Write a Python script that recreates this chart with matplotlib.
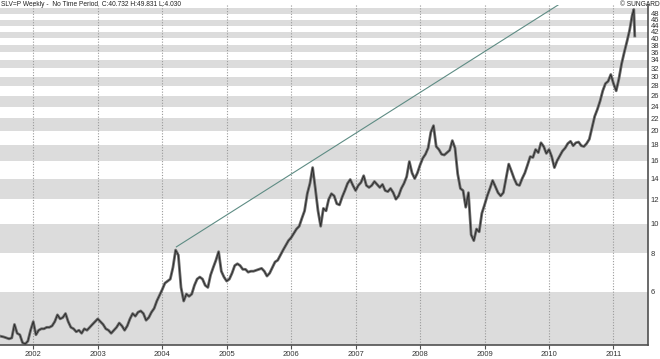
import matplotlib
matplotlib.use("Agg")
import matplotlib.pyplot as plt
import numpy as np

# half-month closes (1st and 16th of each month)
p2001 = [4.30, 4.28, 4.25, 4.22, 4.25, 4.70, 4.40, 4.35, 4.10, 4.06, 4.15, 4.50]
p2002 = [4.80, 4.35, 4.50, 4.55, 4.55, 4.60, 4.60, 4.65, 4.80, 5.05, 4.90, 4.95,
         5.10, 4.80, 4.60, 4.55, 4.45, 4.50, 4.40, 4.55, 4.50, 4.60, 4.70, 4.80]
p2003 = [4.90, 4.80, 4.70, 4.55, 4.50, 4.40, 4.50, 4.60, 4.75, 4.65, 4.50, 4.65,
         4.90, 5.10, 5.00, 5.15, 5.20, 5.10, 4.85, 4.95, 5.15, 5.30, 5.60, 5.85]
p2004 = [6.10, 6.40, 6.50, 6.60, 7.20, 8.20, 7.90, 6.20, 5.60, 5.90, 5.80, 5.90,
         6.30, 6.60, 6.70, 6.60, 6.30, 6.20, 6.80, 7.20, 7.60, 8.10, 7.00, 6.70]
p2005 = [6.50, 6.60, 6.90, 7.30, 7.40, 7.30, 7.10, 7.10, 6.95, 7.00, 7.00, 7.05,
         7.10, 7.15, 7.00, 6.75, 6.90, 7.20, 7.50, 7.60, 7.90, 8.20, 8.50, 8.80]
p2006 = [9.00, 9.30, 9.60, 9.80, 10.4, 11.0, 12.5, 13.5, 15.2, 13.0, 11.0, 9.80,
         11.2, 11.0, 12.0, 12.5, 12.3, 11.6, 11.5, 12.2, 12.8, 13.5, 13.9, 13.3]
p2007 = [12.8, 13.3, 13.6, 14.3, 13.3, 13.1, 13.3, 13.7, 13.4, 13.1, 13.4, 12.8,
         12.7, 13.0, 12.6, 12.0, 12.3, 13.0, 13.5, 14.2, 15.9, 14.6, 14.0, 14.6]
p2008 = [15.5, 16.3, 16.8, 17.6, 19.8, 20.8, 17.8, 17.4, 16.8, 16.7, 17.0, 17.3,
         18.6, 17.6, 14.5, 13.0, 12.8, 11.3, 12.6, 9.20, 8.80, 9.60, 9.40, 10.8]
p2009 = [11.5, 12.3, 13.0, 13.8, 13.2, 12.6, 12.3, 12.6, 14.0, 15.6, 14.8, 14.0,
         13.4, 13.3, 14.0, 14.6, 15.5, 16.5, 16.4, 17.4, 17.0, 18.3, 17.8, 16.9]
p2010 = [17.4, 16.5, 15.2, 16.0, 16.6, 17.2, 17.6, 18.2, 18.5, 17.9, 18.3, 18.4,
         17.9, 17.8, 18.2, 18.8, 20.5, 22.3, 23.5, 25.0, 27.0, 28.5, 29.0, 30.5]
p2011 = [28.5, 27.0, 29.5, 33.0, 36.0, 39.0]

# last weeks, spike and drop
tail_dates = [2011.25, 2011.29, 2011.315, 2011.33]
tail_prices = [42.5, 47.5, 49.6, 40.7]

# trend line through the 2004 and 2006 tops
trend_x = [2004.22, 2010.14]
trend_y = [8.4, 51.3]

years = list(range(2002, 2012))
price_ticks = list(range(6, 50, 2))
band_lows = list(range(4, 52, 4))

prices = p2001 + p2002 + p2003 + p2004 + p2005 + p2006 + p2007 + p2008 + p2009 + p2010 + p2011
dates = list(2001.5 + np.arange(len(prices)) / 24.0) + tail_dates
prices = prices + tail_prices

fig = plt.figure(figsize=(6.6, 3.59), dpi=100)
ax = fig.add_axes([0.0, 0.039, 0.982, 0.947])
ax.set_yscale("log")
ax.set_xlim(2001.484, 2011.537)
ax.set_ylim(4.03, 51.3)

# grey bands every other 2 units
for b in band_lows:
    ax.axhspan(b, b + 2, color="#dcdcdc", lw=0, zorder=0)

# dotted year lines
for yr in years:
    ax.axvline(yr, color="#9a9a9a", ls=(0, (1, 1.5)), lw=0.8, zorder=1)

# price
ax.plot(dates, prices, color="#6e6e6e", lw=2.0, zorder=2)
ax.plot(dates, prices, color="#262626", lw=0.6, zorder=3)

# trend line
ax.plot(trend_x, trend_y, color="#5e8c84", lw=0.8, zorder=4)

# axes look
for s in ["left", "top"]:
    ax.spines[s].set_visible(False)
for s in ["right", "bottom"]:
    ax.spines[s].set_color("#505050")
    ax.spines[s].set_linewidth(1.2)

ax.yaxis.tick_right()
ax.set_yticks(price_ticks)
ax.set_yticklabels([str(t) for t in price_ticks])
ax.yaxis.set_minor_locator(matplotlib.ticker.NullLocator())
ax.tick_params(axis="y", length=0, pad=2, labelsize=5.5, labelcolor="#333333")
ax.set_xticks(years)
ax.set_xticklabels([str(y) for y in years])
ax.tick_params(axis="x", length=3, width=0.8, color="#505050", pad=1,
               labelsize=5.5, labelcolor="#333333")
for lab in ax.get_xticklabels() + ax.get_yticklabels():
    lab.set_family("Liberation Sans")

fig.text(0.002, 0.997, "SLV=P Weekly -  No Time Period  C:40.732 H:49.831 L:4.030",
         ha="left", va="top", fontsize=4.8, family="Liberation Sans", color="#222222")
fig.text(0.999, 0.997, "\u00a9 SUNGARD", ha="right", va="top", fontsize=4.8,
         family="Liberation Sans", color="#222222")

fig.savefig("out.png", dpi=100)
